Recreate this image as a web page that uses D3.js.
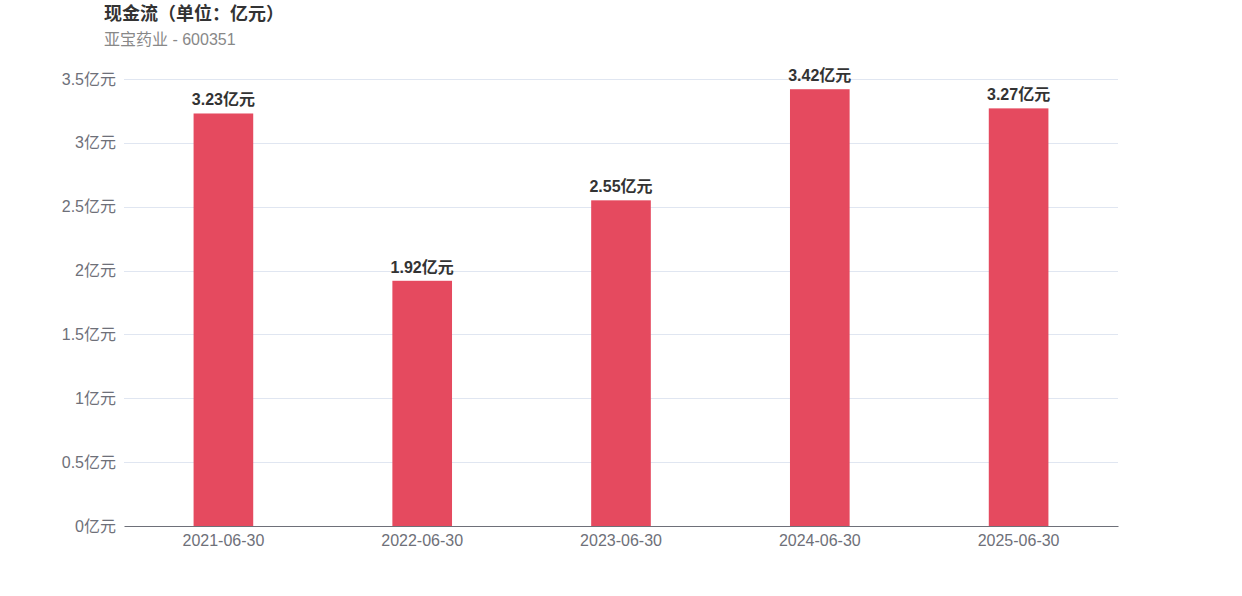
<!DOCTYPE html>
<html>
<head>
<meta charset="utf-8">
<script src="https://cdn.jsdelivr.net/npm/d3@7"></script>
<style>
  html, body { margin: 0; padding: 0; background: #fff; }
  svg { display: block; font-family: "Liberation Sans", "Noto Sans CJK SC", sans-serif; }
</style>
</head>
<body>
<svg id="chart" width="1242" height="596"></svg>
<script>
// Cash flow by reporting period (unit: 100 million yuan)
const categories = ["2021-06-30", "2022-06-30", "2023-06-30", "2024-06-30", "2025-06-30"];
const values = [3.23, 1.92, 2.55, 3.42, 3.27];
const yTicks = [0, 0.5, 1, 1.5, 2, 2.5, 3, 3.5];
const titleText = "现金流（单位：亿元）";
const subtitleText = "亚宝药业 - 600351";
const unit = "亿元";

const svg = d3.select("#chart");
const margin = { left: 124, right: 1118, top: 79, bottom: 526 };

const x = d3.scaleBand()
  .domain(categories)
  .range([margin.left, margin.right])
  .paddingInner(0)
  .paddingOuter(0);

const y = d3.scaleLinear()
  .domain([0, 3.5])
  .range([margin.bottom, margin.top]);

// Titles
svg.append("text")
  .attr("x", 104).attr("y", 20)
  .attr("font-size", 18).attr("font-weight", "bold")
  .attr("fill", "#333")
  .text(titleText);

svg.append("text")
  .attr("x", 104).attr("y", 45)
  .attr("font-size", 16)
  .attr("fill", "#888")
  .text(subtitleText);

// Horizontal grid lines
svg.append("g")
  .selectAll("line")
  .data(yTicks.filter(d => d > 0))
  .join("line")
  .attr("x1", margin.left).attr("x2", margin.right)
  .attr("y1", d => Math.round(y(d)) + 0.5)
  .attr("y2", d => Math.round(y(d)) + 0.5)
  .attr("stroke", "#e0e6f1").attr("stroke-width", 1);

// Y axis labels
const yAxis = d3.axisLeft(y)
  .tickValues(yTicks)
  .tickSize(0)
  .tickPadding(8)
  .tickFormat(d => d + unit);

svg.append("g")
  .attr("transform", `translate(${margin.left},0)`)
  .call(yAxis)
  .call(g => g.select(".domain").remove())
  .call(g => g.selectAll("text")
    .attr("font-size", 16).attr("fill", "#6e7079")
    .attr("font-family", "Liberation Sans, Noto Sans CJK SC, sans-serif"));

// Bars
const barWidth = x.bandwidth() * 0.3;
svg.append("g")
  .selectAll("rect")
  .data(values)
  .join("rect")
  .attr("x", (d, i) => x(categories[i]) + (x.bandwidth() - barWidth) / 2)
  .attr("y", d => y(d))
  .attr("width", barWidth)
  .attr("height", d => y(0) - y(d))
  .attr("fill", "#e54a5f");

// Value labels
svg.append("g")
  .selectAll("text")
  .data(values)
  .join("text")
  .attr("x", (d, i) => x(categories[i]) + x.bandwidth() / 2)
  .attr("y", d => y(d) - 8)
  .attr("text-anchor", "middle")
  .attr("font-size", 16).attr("font-weight", "bold")
  .attr("fill", "#333")
  .text(d => d.toFixed(2) + unit);

// X axis
const xAxis = d3.axisBottom(x).tickSize(0).tickPadding(9);
svg.append("g")
  .attr("transform", `translate(0,${margin.bottom})`)
  .call(xAxis)
  .call(g => g.select(".domain").attr("stroke", "#6e7079").attr("stroke-width", 1.2))
  .call(g => g.selectAll("text")
    .attr("font-size", 16).attr("fill", "#6e7079")
    .attr("font-family", "Liberation Sans, Noto Sans CJK SC, sans-serif"));
</script>
</body>
</html>
